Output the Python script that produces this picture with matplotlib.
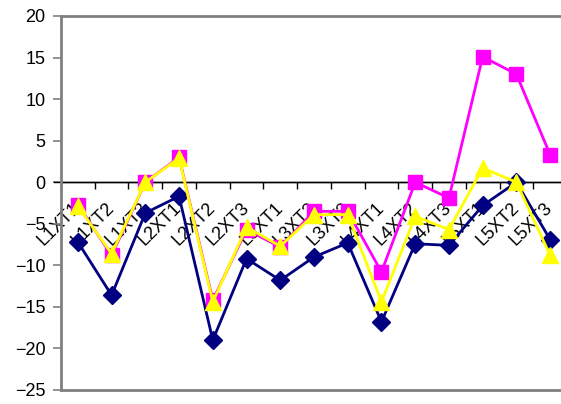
import matplotlib.pyplot as plt
import numpy as np

categories = ["L1XT1", "L1XT2", "L1XT3", "L2XT1", "L2XT2", "L2XT3",
              "L3XT1", "L3XT2", "L3XT3", "L4XT1", "L4XT2", "L4XT3",
              "L5XT1", "L5XT2", "L5XT3"]
navy_values = [-7.2, -13.6, -3.7, -1.7, -19.0, -9.2, -11.8, -9.0,
               -7.3, -16.8, -7.4, -7.6, -2.8, 0.0, -6.9]
magenta_values = [-2.7, -8.8, 0.0, 3.0, -14.2, -5.7, -7.8, -3.5,
                  -3.5, -10.8, 0.0, -1.9, 15.1, 13.0, 3.3]
yellow_values = [-2.9, -8.6, 0.0, 2.9, -14.4, -5.4, -7.7, -3.9,
                 -3.9, -14.4, -4.1, -5.7, 1.7, 0.0, -8.8]
y_ticks = list(range(-25, 21, 5))

plt.rcParams["font.family"] = ["Liberation Sans", "DejaVu Sans"]

fig = plt.figure(figsize=(5.61, 4.04), dpi=100)
ax = fig.add_axes([61 / 561, 14 / 404, 506 / 561, 374 / 404])

x = np.arange(len(categories))
ax.plot(x, navy_values, color="#000080", lw=2, marker="D", ms=9,
        mec="#000080", zorder=3)
ax.plot(x, magenta_values, color="#ff00ff", lw=2, marker="s", ms=10,
        mec="#ff00ff", zorder=4)
ax.plot(x, yellow_values, color="#ffff00", lw=2, marker="^", ms=11,
        mec="#ffff00", zorder=5)

ax.set_xlim(-0.5, len(categories) - 0.5)
ax.set_ylim(-25, 20)
ax.set_yticks(y_ticks)
ax.tick_params(axis="y", direction="out", length=6, width=1.2,
               color="#808080", labelsize=13, pad=5)
ax.set_xticks([])
for side in ("left", "top", "bottom", "right"):
    ax.spines[side].set_color("#808080")
    ax.spines[side].set_linewidth(2)

# category axis crossing at y = 0, labels hanging below it
cat = ax.secondary_xaxis(25 / 45)
cat.set_alignment("bottom")
cat.spines["bottom"].set_color("black")
cat.spines["bottom"].set_linewidth(1)
cat.set_xticks(x)
cat.set_xticklabels(categories, rotation=45, ha="right", va="center",
                    rotation_mode="anchor", fontsize=13)
cat.set_xticks(np.arange(-0.5, len(categories)), minor=True)
cat.tick_params(axis="x", which="major", length=0, pad=17)
cat.tick_params(axis="x", which="minor", length=5, width=1, color="black",
                direction="out")
ax.axhline(0, xmin=-7 / 506, color="black", lw=1, clip_on=False, zorder=2)

fig.savefig("out.png", dpi=100)
